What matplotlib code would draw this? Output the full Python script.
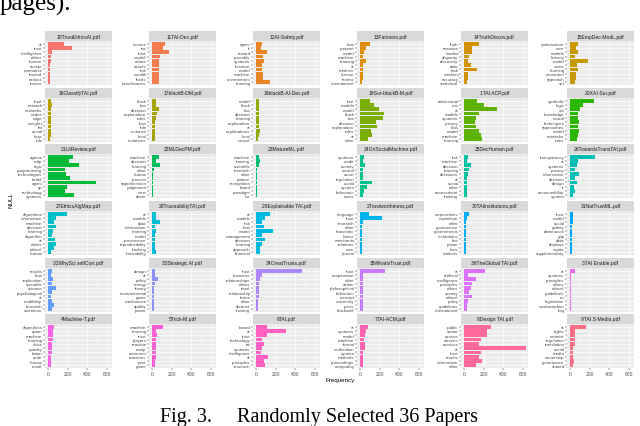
import numpy as np
import matplotlib
matplotlib.use("Agg")
import matplotlib.pyplot as plt

# facet titles, in ggplot's (string-sorted) order
papers = ["10TrustEthicsAI.pdf", "11TAI-Dec.pdf", "12AI-Safety.pdf", "13Fairness.pdf",
          "14TruthDiscov.pdf", "15EmpDec-ModL.pdf", "16ClassifyTAI.pdf", "17blackB-DM.pdf",
          "18blackB-AI-Dec.pdf", "19Sur-blackB-M.pdf", "1TAI ACP.pdf", "20XAI-Sur.pdf",
          "21LitReview.pdf", "22MLDecPM.pdf", "23MatureML.pdf", "24OnSocialMachine.pdf",
          "25DecHuman.pdf", "26TowardsTransTAI.pdf", "27EthicsAlgMap.pdf", "28TraceabilityTAI.pdf",
          "29Explainable TAI.pdf", "2Trustworthiness.pdf", "30TAIinstitutions.pdf", "31NatTrustML.pdf",
          "32WhySci selfCorr.pdf", "33Strategic AI.pdf", "34CreatTrusts.pdf", "35WhatIsTrust.pdf",
          "36TheGlobal TAI.pdf", "37AI Enable.pdf", "4Machine-T.pdf", "5Trick-M.pdf",
          "6TAI.pdf", "7TAI-ACM.pdf", "8Design TAI.pdf", "9TAI S-Media.pdf"]

# top 10 words per paper (top to bottom)
words = [
    ["ai", "trust", "intelligence", "ethics", "trustee", "accept", "normative", "trusted", "actions", "trustor"],
    ["income", "tax", "trust", "capital", "estate", "assets", "risk", "wealth", "funds", "beneficiaries"],
    ["agent", "rl", "reward", "provably", "systems", "function", "model", "machine", "environment", "learning"],
    ["bias", "preprint", "model", "machine", "learning", "ai", "medrxiv", "license", "review", "international"],
    ["truth", "answers", "worker", "disparity", "discovery", "data", "task", "workers", "accuracy", "statistical"],
    ["optimization", "core", "models", "latency", "model", "cores", "learning", "constraint", "approach", "set"],
    ["trust", "network", "networks", "nodes", "edge", "weights", "fat", "social", "logic", "rule"],
    ["black", "box", "decision", "explanation", "rules", "bias", "rule", "instance", "local", "instances"],
    ["model", "black", "box", "decision", "learning", "explanation", "ai", "explanations", "local", "causal"],
    ["tree", "models", "model", "black", "box", "decision", "explanation", "rules", "ai", "other"],
    ["adversarial", "env", "ai", "models", "systems", "privacy", "bias", "model", "machine", "learning"],
    ["symbolic", "logic", "xai", "knowledge", "neural", "techniques", "approaches", "model", "networks", "rules"],
    ["agents", "mdp", "logic", "programming", "technologies", "belief", "agent", "cp", "technology", "systems"],
    ["machine", "decision", "learning", "other", "human", "process", "apprehension", "judgement", "view", "driver"],
    ["machine", "training", "scientific", "research", "other", "pattern", "recognition", "board", "paradigm", "list"],
    ["systems", "credit", "society", "control", "score", "regulation", "social", "system", "behaviour", "users"],
    ["risk", "machine", "decision", "learning", "decisions", "ai", "social", "other", "assessment", "training"],
    ["transparency", "ai", "systems", "privacy", "information", "decision", "design", "it", "accountability", "system"],
    ["algorithms", "information", "machine", "decision", "learning", "algorithm", "ai", "ethics", "ethical", "human"],
    ["ai", "models", "data", "information", "learning", "model", "provenance", "reproducibility", "tracking", "traceability"],
    ["ai", "models", "risk", "bias", "model", "management", "decision", "learning", "approach", "financial"],
    ["language", "trust", "research", "other", "hanseatic", "hanse", "merchants", "relations", "corn", "journal"],
    ["corporations", "capitalism", "other", "governance", "governments", "institutions", "law", "power", "laws", "markets"],
    ["trust", "model", "social", "gallery", "dominance", "gdp", "data", "displays", "capita", "supplementary"],
    ["results", "bias", "replication", "scientific", "science", "psychological", "ai", "credibility", "research", "scientists"],
    ["design", "ai", "policy", "energy", "theory", "environmental", "game", "mechanism", "quality", "power"],
    ["trust", "business", "relationships", "ethics", "ritual", "relationship", "terms", "other", "distrust", "trusting"],
    ["trust", "cooperation", "other", "action", "philosophical", "behaviour", "concept", "university", "press", "blackwell"],
    ["ai", "artificial", "intelligence", "principles", "ethics", "society", "ethical", "policy", "guidelines", "international"],
    ["ai", "systems", "principles", "ethics", "ethical", "guidelines", "eu", "legislation", "contraception", "flag"],
    ["algorithms", "spam", "machine", "learning", "class", "opacity", "baton", "code", "human", "email"],
    ["machine", "learning", "trust", "players", "reaction", "emoji", "comment", "reactions", "post", "game"],
    ["based", "ai", "trust", "technology", "tai", "systems", "intelligence", "al", "principles", "research"],
    ["ai", "systems", "model", "machine", "formal", "verification", "system", "methods", "proceedings", "computing"],
    ["public", "sector", "service", "citizens", "services", "ai", "trust", "results", "information", "other"],
    ["ai", "rights", "content", "regulation", "translation", "social", "media", "ownership", "governance", "shared"],
]

freqs = [
    [160, 240, 45, 30, 25, 22, 20, 20, 20, 18],
    [130, 110, 170, 85, 70, 70, 70, 70, 70, 75],
    [60, 50, 110, 70, 85, 60, 60, 70, 75, 145],
    [100, 57, 40, 30, 57, 30, 25, 25, 25, 22],
    [150, 85, 78, 50, 45, 70, 135, 45, 45, 35],
    [80, 65, 80, 47, 185, 70, 78, 65, 65, 50],
    [30, 40, 35, 30, 30, 28, 25, 28, 25, 22],
    [45, 45, 75, 50, 40, 35, 30, 28, 25, 25],
    [30, 35, 35, 30, 25, 30, 28, 45, 25, 22],
    [100, 140, 190, 245, 235, 160, 175, 110, 125, 85],
    [135, 200, 340, 150, 120, 110, 120, 150, 170, 185],
    [245, 130, 100, 80, 80, 95, 80, 88, 80, 75],
    [255, 215, 315, 175, 180, 220, 485, 195, 175, 265],
    [70, 45, 85, 15, 10, 8, 8, 8, 7, 7],
    [27, 45, 30, 10, 8, 8, 8, 7, 7, 7],
    [40, 25, 55, 30, 25, 25, 120, 75, 40, 25],
    [45, 35, 70, 50, 40, 30, 30, 25, 30, 25],
    [250, 80, 75, 47, 88, 55, 75, 40, 47, 35],
    [195, 80, 60, 80, 50, 45, 70, 80, 60, 35],
    [45, 45, 80, 35, 45, 30, 35, 35, 25, 45],
    [145, 95, 60, 78, 170, 60, 95, 60, 40, 45],
    [90, 220, 25, 20, 20, 20, 18, 18, 18, 18],
    [50, 35, 20, 18, 18, 18, 15, 15, 15, 15],
    [28, 25, 25, 22, 22, 22, 20, 20, 20, 20],
    [45, 30, 50, 37, 78, 45, 30, 37, 60, 37],
    [27, 35, 60, 25, 20, 20, 20, 20, 15, 15],
    [470, 60, 45, 30, 28, 25, 25, 22, 22, 22],
    [255, 35, 35, 35, 35, 25, 35, 30, 25, 30],
    [210, 45, 120, 85, 75, 50, 85, 45, 35, 35],
    [47, 12, 10, 10, 10, 10, 8, 8, 8, 8],
    [60, 50, 50, 50, 45, 45, 40, 35, 35, 30],
    [110, 37, 50, 45, 45, 45, 45, 45, 35, 35],
    [110, 300, 110, 60, 78, 60, 50, 120, 78, 88],
    [80, 57, 47, 40, 50, 50, 35, 35, 35, 35],
    [270, 237, 237, 170, 150, 627, 170, 150, 180, 120],
    [160, 47, 47, 47, 47, 30, 25, 30, 37, 30],
]


def hue_pal(n, l=65, c=100):
    # ggplot2 default discrete palette (polar LUV -> sRGB)
    hs = np.linspace(15, 375, n + 1)[:n]
    Xn, Yn, Zn = 0.95047, 1.0, 1.08883
    un = 4 * Xn / (Xn + 15 * Yn + 3 * Zn)
    vn = 9 * Yn / (Xn + 15 * Yn + 3 * Zn)
    M = np.array([[3.240479, -1.537150, -0.498535],
                  [-0.969256, 1.875992, 0.041556],
                  [0.055648, -0.204043, 1.057311]])
    out = []
    for h in hs:
        hr = np.deg2rad(h)
        u = c * np.cos(hr) / (13 * l) + un
        v = c * np.sin(hr) / (13 * l) + vn
        Y = ((l + 16) / 116) ** 3
        X = 9 * Y * u / (4 * v)
        Z = -X / 3 - 5 * Y + 3 * Y / v
        rgb = M @ np.array([X, Y, Z])
        rgb = np.where(rgb <= 0.0031308, 12.92 * rgb, 1.055 * np.abs(rgb) ** (1 / 2.4) - 0.055)
        out.append(tuple(np.clip(rgb, 0, 1)))
    return out


W, H = 640, 427
colors = hue_pal(len(papers))
lefts = [45, 149, 253, 357, 461, 567]
tops = [32, 89, 145, 202, 259, 315]
pw, strip_h, ph = 67, 10, 44

plt.rcParams['font.family'] = ['Liberation Sans', 'DejaVu Sans']
fig = plt.figure(figsize=(W / 100, H / 100), dpi=100)


def px_axes(x, y, w, h):
    return fig.add_axes([x / W, 1 - (y + h) / H, w / W, h / H])


for i, name in enumerate(papers):
    r, c = divmod(i, 6)
    x0, y0 = lefts[c], tops[r]

    sax = px_axes(x0, y0, pw, strip_h)
    sax.set_facecolor("#D9D9D9")
    sax.set_xticks([]); sax.set_yticks([])
    for s in sax.spines.values():
        s.set_visible(False)
    sax.text(0.5, 0.5, name, ha="center", va="center", fontsize=3.6, color="#1A1A1A",
             transform=sax.transAxes)

    ax = px_axes(x0, y0 + strip_h, pw, ph)
    ax.set_facecolor("#EBEBEB")
    ax.barh(range(10), freqs[i], height=0.9, color=colors[i], zorder=2)
    ax.set_xlim(-31, 651)
    ax.set_ylim(9.6, -0.6)
    ax.set_yticks(range(10))
    ax.set_yticklabels(words[i], fontsize=3.2, color="#4D4D4D")
    ax.set_xticks([0, 200, 400, 600])
    ax.set_xticks([100, 300, 500], minor=True)
    ax.grid(True, which="major", color="white", linewidth=0.5, zorder=0)
    ax.grid(True, which="minor", axis="x", color="white", linewidth=0.25, zorder=0)
    ax.set_axisbelow(True)
    for s in ax.spines.values():
        s.set_visible(False)
    ax.tick_params(axis="y", length=1.2, width=0.35, color="#333333", pad=0.6)
    ax.tick_params(which="minor", length=0)
    if r < 5:
        ax.tick_params(axis="x", length=0, labelbottom=False)
    else:
        ax.tick_params(axis="x", length=1.2, width=0.35, color="#333333", pad=0.8,
                       labelsize=3.6, labelcolor="#4D4D4D")

fig.text(11 / W, 1 - 200 / H, "NULL", rotation=90, ha="center", va="center",
         fontsize=4.5, color="black")
fig.text(340 / W, 1 - 381 / H, "Frequency", ha="center", va="center",
         fontsize=4.5, color="black")

# surrounding page text (the line above is cut by the crop, as in the scan)
fig.text(0 / W, 1 - 11 / H, "pages).", ha="left", va="baseline",
         fontsize=18, family="Liberation Serif")
fig.text(160 / W, 1 - 422 / H, "Fig. 3.", ha="left", va="baseline",
         fontsize=14.5, family="Liberation Serif")
fig.text(237 / W, 1 - 422 / H, "Randomly Selected 36 Papers", ha="left", va="baseline",
         fontsize=14.5, family="Liberation Serif")

fig.savefig("out.png", dpi=100)
